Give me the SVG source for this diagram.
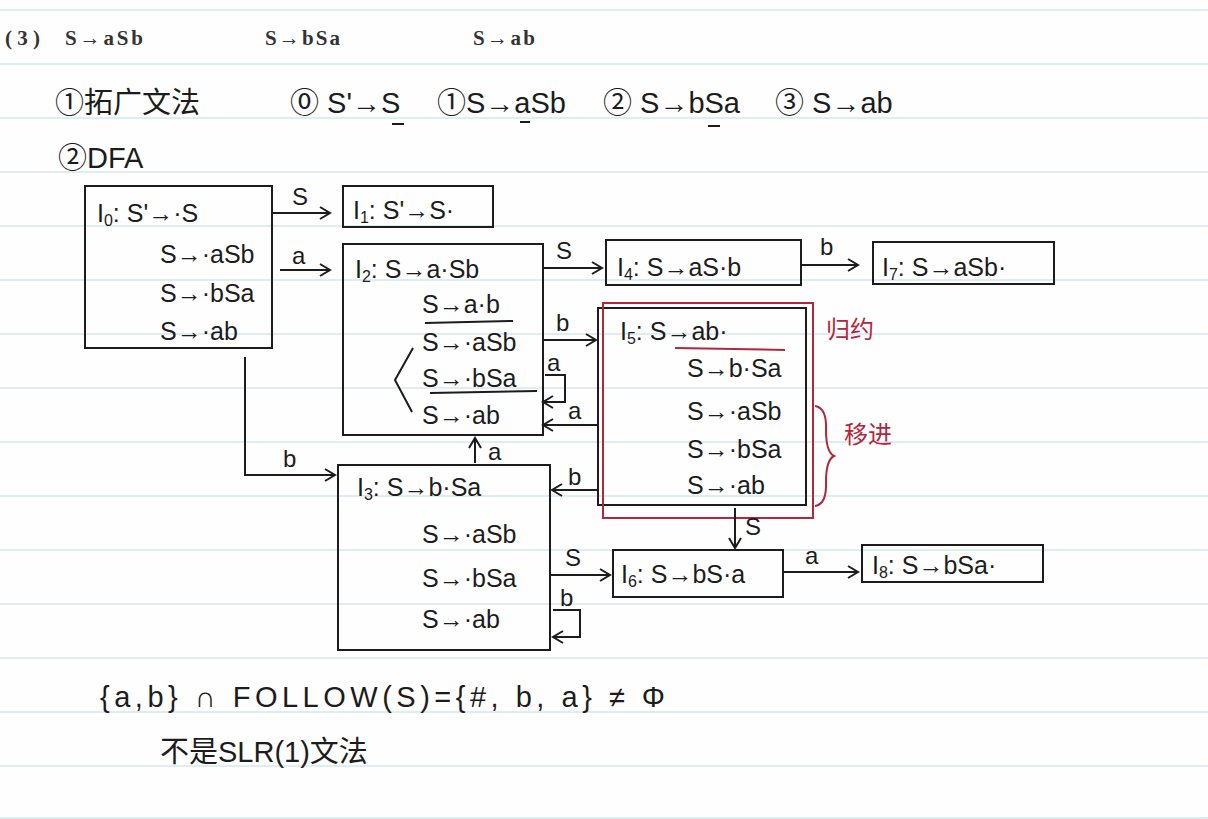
<svg xmlns="http://www.w3.org/2000/svg" width="1208" height="819" viewBox="0 0 1208 819">
<defs>
<style>
.rule{stroke:#d5e6ee;stroke-width:1.5}
.pr{font-family:"Liberation Serif","Noto Sans CJK SC",serif;font-weight:bold;font-size:21px;fill:#333}
.hw{font-family:"Liberation Sans","Noto Sans CJK SC",sans-serif;font-size:25px;fill:#1c1c1c}
.big{font-size:29px}
.sub{font-size:16px}
.box{fill:none;stroke:#1c1c1c;stroke-width:2}
.rbox{fill:none;stroke:#b3263c;stroke-width:2}
.rtx{font-family:"Noto Sans CJK SC",sans-serif;font-size:24px;fill:#b3263c}
.ul{stroke:#1c1c1c;stroke-width:2;fill:none}
.conn path{fill:none;stroke:#1c1c1c;stroke-width:2}
.arr{marker-end:url(#ah)}
.lb{font-family:"Liberation Sans",sans-serif;font-size:24px;fill:#1c1c1c}
</style>
<marker id="ah" markerUnits="userSpaceOnUse" markerWidth="16" markerHeight="16" refX="13" refY="8" orient="auto">
<path d="M3,2 L13,8 L3,14" fill="none" stroke="#1c1c1c" stroke-width="2"/>
</marker>
</defs>
<rect width="1208" height="819" fill="#fefefe"/>
<g id="rules">
<line class="rule" x1="0" y1="10" x2="1208" y2="10"/>
<line class="rule" x1="0" y1="64" x2="1208" y2="64"/>
<line class="rule" x1="0" y1="118" x2="1208" y2="118"/>
<line class="rule" x1="0" y1="172" x2="1208" y2="172"/>
<line class="rule" x1="0" y1="226" x2="1208" y2="226"/>
<line class="rule" x1="0" y1="280" x2="1208" y2="280"/>
<line class="rule" x1="0" y1="334" x2="1208" y2="334"/>
<line class="rule" x1="0" y1="388" x2="1208" y2="388"/>
<line class="rule" x1="0" y1="442" x2="1208" y2="442"/>
<line class="rule" x1="0" y1="496" x2="1208" y2="496"/>
<line class="rule" x1="0" y1="550" x2="1208" y2="550"/>
<line class="rule" x1="0" y1="604" x2="1208" y2="604"/>
<line class="rule" x1="0" y1="658" x2="1208" y2="658"/>
<line class="rule" x1="0" y1="712" x2="1208" y2="712"/>
<line class="rule" x1="0" y1="766" x2="1208" y2="766"/>
<line class="rule" x1="0" y1="818" x2="1208" y2="818"/>
</g>
<g id="header">
<text class="pr" x="5" y="45" textLength="35">(3)</text>
<text class="pr" x="65" y="45" textLength="78">S→aSb</text>
<text class="pr" x="265" y="45" textLength="75">S→bSa</text>
<text class="pr" x="473" y="45" textLength="62">S→ab</text>
</g>
<g id="grammar">
<text class="hw big" x="55" y="113">①拓广文法</text>
<text class="hw big" x="290" y="113">⓪ S'→S</text>
<text class="hw big" x="437" y="113">①S→aSb</text>
<text class="hw big" x="603" y="113">② S→bSa</text>
<text class="hw big" x="775" y="113">③ S→ab</text>
<path class="ul" d="M392,124 L404,124 M520,122 L530,122 M708,126 L720,126"/>
<text class="hw big" x="58" y="168">②DFA</text>
</g>
<g id="I0">
<rect class="box" x="85" y="186" width="187" height="162"/>
<text class="hw" x="97" y="222">I<tspan class="sub" dy="4">0</tspan><tspan dy="-4">: S'→·S</tspan></text>
<text class="hw" x="160" y="263">S→·aSb</text>
<text class="hw" x="160" y="302">S→·bSa</text>
<text class="hw" x="160" y="340">S→·ab</text>
</g>
<g id="I1">
<rect class="box" x="343" y="186" width="150" height="41"/>
<text class="hw" x="353" y="219">I<tspan class="sub" dy="4">1</tspan><tspan dy="-4">: S'→S·</tspan></text>
</g>
<g id="I2">
<rect class="box" x="343" y="244" width="200" height="191"/>
<text class="hw" x="355" y="278">I<tspan class="sub" dy="4">2</tspan><tspan dy="-4">: S→a·Sb</tspan></text>
<text class="hw" x="422" y="313">S→a·b</text>
<text class="hw" x="422" y="351">S→·aSb</text>
<text class="hw" x="422" y="387">S→·bSa</text>
<text class="hw" x="422" y="424">S→·ab</text>
<path class="ul" d="M425,323 L513,321 M430,393 L537,391 M413,348 L395,380 L412,412"/>
</g>
<g id="I4">
<rect class="box" x="606" y="240" width="195" height="45"/>
<text class="hw" x="617" y="276">I<tspan class="sub" dy="4">4</tspan><tspan dy="-4">: S→aS·b</tspan></text>
</g>
<g id="I7">
<rect class="box" x="873" y="242" width="181" height="42"/>
<text class="hw" x="882" y="276">I<tspan class="sub" dy="4">7</tspan><tspan dy="-4">: S→aSb·</tspan></text>
</g>
<g id="I5">
<rect class="box" x="598" y="308" width="208" height="197"/>
<rect class="rbox" x="603" y="303" width="210" height="215"/>
<text class="hw" x="620" y="340">I<tspan class="sub" dy="4">5</tspan><tspan dy="-4">: S→ab·</tspan></text>
<path class="rbox" d="M675,348 L785,350"/>
<text class="hw" x="687" y="377">S→b·Sa</text>
<text class="hw" x="687" y="420">S→·aSb</text>
<text class="hw" x="687" y="458">S→·bSa</text>
<text class="hw" x="687" y="494">S→·ab</text>
<text class="rtx" x="826" y="338">归约</text>
<path class="rbox" d="M815,406 Q827,408 826,430 Q826,452 834,456 Q826,460 826,482 Q827,504 815,506"/>
<text class="rtx" x="844" y="443">移进</text>
</g>
<g id="I3">
<rect class="box" x="338" y="465" width="212" height="185"/>
<text class="hw" x="357" y="496">I<tspan class="sub" dy="4">3</tspan><tspan dy="-4">: S→b·Sa</tspan></text>
<text class="hw" x="422" y="543">S→·aSb</text>
<text class="hw" x="422" y="587">S→·bSa</text>
<text class="hw" x="422" y="628">S→·ab</text>
</g>
<g id="I6">
<rect class="box" x="613" y="550" width="170" height="47"/>
<text class="hw" x="621" y="583">I<tspan class="sub" dy="4">6</tspan><tspan dy="-4">: S→bS·a</tspan></text>
</g>
<g id="I8">
<rect class="box" x="862" y="545" width="181" height="37"/>
<text class="hw" x="872" y="574">I<tspan class="sub" dy="4">8</tspan><tspan dy="-4">: S→bSa·</tspan></text>
</g>
<g id="connectors" class="conn">
<path class="arr" d="M272,213 L330,213"/>
<text class="lb" x="292" y="205">S</text>
<path class="arr" d="M280,270 L330,270"/>
<text class="lb" x="292" y="264">a</text>
<path class="arr" d="M245,357 L245,475 L335,475"/>
<text class="lb" x="283" y="467">b</text>
<path class="arr" d="M543,268 L602,268"/>
<text class="lb" x="556" y="259">S</text>
<path class="arr" d="M801,265 L858,265"/>
<text class="lb" x="820" y="255">b</text>
<path class="arr" d="M543,340 L596,340"/>
<text class="lb" x="556" y="331">b</text>
<path class="arr" d="M545,375 L565,375 L565,402 L543,402"/>
<text class="lb" x="547" y="371">a</text>
<path class="arr" d="M598,425 L543,425"/>
<text class="lb" x="568" y="419">a</text>
<path class="arr" d="M475,463 L475,438"/>
<text class="lb" x="488" y="460">a</text>
<path class="arr" d="M598,490 L552,490"/>
<text class="lb" x="568" y="485">b</text>
<path class="arr" d="M735,508 L735,548"/>
<text class="lb" x="745" y="535">S</text>
<path class="arr" d="M550,575 L610,575"/>
<text class="lb" x="565" y="566">S</text>
<path class="arr" d="M553,610 L580,610 L580,637 L553,637"/>
<text class="lb" x="560" y="606">b</text>
<path class="arr" d="M783,572 L858,572"/>
<text class="lb" x="805" y="564">a</text>
</g>
<g id="conclusion">
<text class="hw big" x="100" y="707" textLength="565">{a,b} ∩ FOLLOW(S)={#, b, a} ≠ Φ</text>
<text class="hw big" x="160" y="762">不是SLR(1)文法</text>
</g>
</svg>
